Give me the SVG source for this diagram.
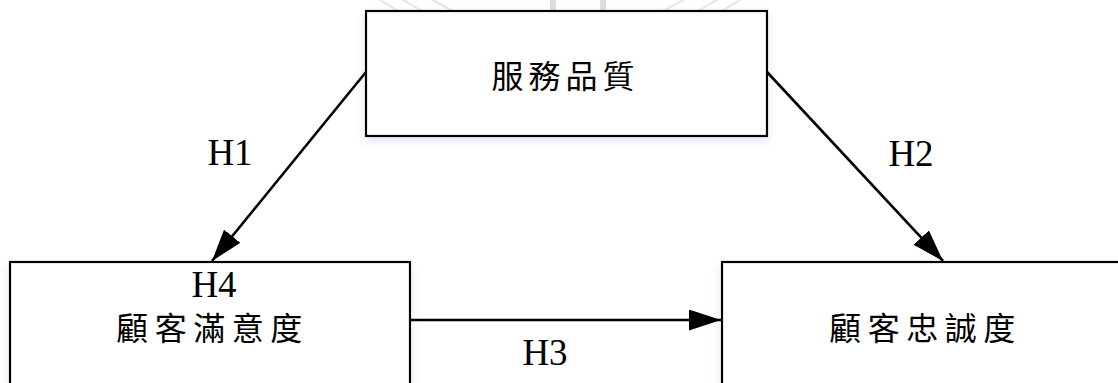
<svg xmlns="http://www.w3.org/2000/svg" width="1118" height="383" viewBox="0 0 1118 383">
  <style>
    .box { fill: #ffffff; stroke: #000000; stroke-width: 2.2; filter: url(#shadow); }
    .cjk { font-family: "Noto Sans CJK TC", "Noto Sans CJK SC", sans-serif; font-size: 32px; fill: #000000; text-anchor: middle; }
    .lbl { font-family: "Liberation Serif", "Times New Roman", serif; font-size: 37px; fill: #000000; text-anchor: middle; }
    .edge { stroke: #000000; stroke-width: 2.6; fill: none; marker-end: url(#arrow); }
    .wm { fill: none; stroke: #e6e6e6; stroke-width: 2; }
  </style>
  <defs>
    <marker id="arrow" markerUnits="userSpaceOnUse" markerWidth="34" markerHeight="22" refX="32" refY="10.5" orient="auto">
      <path d="M0,0 L32,10.5 L0,21 z" fill="#000000"/>
    </marker>
    <filter id="shadow" x="-10%" y="-10%" width="120%" height="130%">
      <feDropShadow dx="0" dy="4" stdDeviation="4" flood-color="#b8c8e0" flood-opacity="0.45"/>
    </filter>
  </defs>
  <rect x="0" y="0" width="1118" height="383" fill="#ffffff"/>
  <g id="watermark">
    <circle class="wm" cx="560" cy="-285" r="337"/>
    <circle class="wm" cx="560" cy="-250" r="295"/>
    <circle class="wm" cx="558" cy="-206" r="241"/>
    <path d="M553,0 L553,18 L603,18 L603,0" fill="none" stroke="#dcdcdc" stroke-width="6"/>
  </g>
  <g id="node-service-quality">
    <rect class="box" x="366" y="11" width="401" height="125"/>
    <text class="cjk" x="565.5" y="88" letter-spacing="5">服務品質</text>
  </g>
  <g id="node-satisfaction">
    <rect class="box" x="10" y="262" width="400" height="140"/>
    <text class="lbl" x="214" y="297">H4</text>
    <text class="cjk" x="212.5" y="340" letter-spacing="6.5">顧客滿意度</text>
  </g>
  <g id="node-loyalty">
    <rect class="box" x="722" y="262" width="400" height="140"/>
    <text class="cjk" x="925.5" y="340" letter-spacing="6.5">顧客忠誠度</text>
  </g>
  <g id="connectors">
    <line class="edge" x1="366" y1="72" x2="212" y2="261"/>
    <line class="edge" x1="767" y1="72" x2="943" y2="261"/>
    <line class="edge" x1="410" y1="320" x2="721" y2="320"/>
    <text class="lbl" x="230" y="165">H1</text>
    <text class="lbl" x="911" y="166">H2</text>
    <text class="lbl" x="545" y="365">H3</text>
  </g>
</svg>
